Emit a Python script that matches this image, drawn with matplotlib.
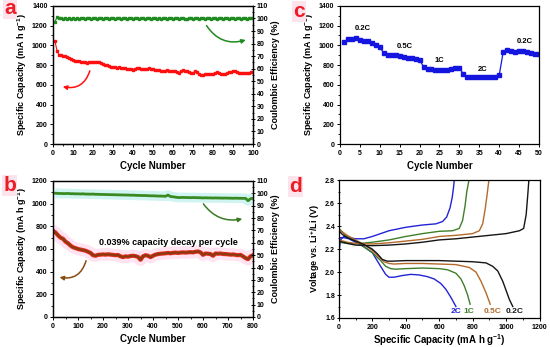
import numpy as np
import matplotlib
matplotlib.use('Agg')
import matplotlib.pyplot as plt
from matplotlib.patches import FancyArrowPatch
from matplotlib.ticker import MultipleLocator, FormatStrFormatter

plt.rcParams['font.family'] = ['Liberation Sans', 'DejaVu Sans']
plt.rcParams['font.weight'] = 'bold'
plt.rcParams['mathtext.fontset'] = 'custom'
plt.rcParams['mathtext.rm'] = 'Liberation Sans:bold'
plt.rcParams['mathtext.bf'] = 'Liberation Sans:bold'

# ---- panel a: cycling at 0.2C, 100 cycles
cycles_a = np.arange(1, 101)
cap_a = [1040, 945, 905, 900, 895, 890, 880, 870, 860, 850,
         845, 840, 838, 835, 830, 828, 826, 830, 832, 828,
         830, 832, 828, 825, 815, 805, 798, 790, 785, 780,
         778, 775, 778, 774, 770, 768, 765, 762, 760, 755,
         765, 770, 768, 762, 758, 760, 764, 768, 762, 758,
         755, 750, 748, 745, 742, 740, 748, 745, 738, 735,
         740, 732, 722, 738, 750, 745, 735, 728, 720, 718,
         738, 725, 705, 695, 700, 708, 712, 705, 708, 710,
         722, 725, 718, 712, 705, 706, 715, 728, 732, 738,
         735, 728, 722, 718, 716, 718, 720, 722, 726, 725]
ce_a = [97.5, 101.0, 100.4, 100.0, 99.8, 100.1, 99.9, 100.0, 99.7, 100.2,
        99.9, 100.0, 99.8, 100.1, 100.0, 99.9, 100.2, 100.0, 99.8, 100.1,
        100.0, 99.9, 100.1, 100.0, 99.8, 100.2, 100.0, 99.9, 100.1, 100.0,
        99.8, 100.0, 100.2, 99.9, 100.0, 100.1, 99.8, 100.0, 100.2, 99.9,
        100.0, 100.1, 99.9, 100.0, 100.2, 99.8, 100.0, 100.1, 99.9, 100.0,
        100.2, 99.9, 100.0, 99.8, 100.1, 100.0, 99.9, 100.2, 100.0, 99.8,
        100.0, 100.1, 99.9, 100.0, 100.3, 99.8, 99.6, 100.0, 100.1, 99.9,
        100.0, 100.2, 99.9, 100.0, 100.1, 99.8, 100.0, 100.2, 99.9, 100.0,
        100.1, 99.9, 100.0, 100.2, 99.8, 100.0, 100.1, 99.9, 100.0, 100.2,
        99.9, 100.0, 100.1, 99.8, 100.0, 100.2, 99.9, 100.0, 100.1, 100.0]

# ---- panel b: long cycling, every 10th cycle
cycles_b = np.arange(0, 801, 10)
cap_b = [760, 745, 720, 700, 690, 665, 650, 630, 615, 608,
         600, 595, 590, 585, 575, 565, 545, 540, 548, 550,
         552, 550, 553, 550, 548, 545, 547, 535, 528, 535,
         532, 538, 540, 537, 530, 505, 535, 545, 540, 528,
         540, 550, 555, 558, 560, 562, 565, 562, 566, 568,
         565, 568, 570, 568, 570, 572, 570, 575, 578, 570,
         548, 560, 558, 555, 540, 560, 558, 560, 556, 555,
         553, 550, 552, 548, 545, 548, 535, 520, 510, 535,
         545]
ce_b = [100.0, 100.1, 99.9, 99.9, 99.8, 99.8, 99.9, 99.7, 99.7, 99.6,
        99.6, 99.5, 99.6, 99.4, 99.4, 99.3, 99.4, 99.2, 99.2, 99.1,
        99.1, 99.0, 99.0, 98.9, 98.9, 98.8, 98.8, 98.7, 98.7, 98.6,
        98.6, 98.5, 98.5, 98.4, 98.3, 98.3, 98.2, 98.2, 98.1, 98.0,
        98.0, 97.9, 97.8, 97.8, 97.7, 97.6, 98.6, 97.4, 97.2, 96.9,
        96.6, 96.6, 96.7, 96.6, 96.6, 96.5, 96.6, 96.5, 96.5, 96.4,
        96.3, 96.4, 96.3, 96.3, 96.2, 96.3, 96.2, 96.2, 96.1, 96.2,
        96.1, 96.1, 96.0, 96.1, 96.0, 96.0, 95.9, 96.0, 94.0, 95.6,
        96.0]

# ---- panel c: rate capability
cycles_c = np.arange(1, 51)
cap_c = [1035, 1062, 1065, 1075, 1055, 1048, 1048, 1028, 1008, 987,
         920, 900, 900, 900, 896, 886, 876, 869, 859, 852,
         785, 761, 757, 755, 754, 754, 754, 758, 767, 771,
         710, 680, 680, 680, 680, 680, 680, 680, 680, 697,
         930, 954, 940, 930, 940, 943, 933, 920, 913, 913]
rate_labels = ['0.2C', '0.5C', '1C', '2C', '0.2C']
rate_label_x = [5.7, 16.3, 25.1, 35.8, 46.5]
rate_label_y = [1167, 987, 845, 751, 1035]

# ---- panel d: voltage profiles
rates_d = ['2C', '1C', '0.5C', '0.2C']
colors_d = ['#2323d6', '#3f7f2a', '#b36a2c', '#151515']
dis_x = [
    [0, 30, 60, 100, 150, 200, 250, 280, 300, 330, 380, 430, 480, 530, 570, 610, 640, 670, 700],
    [0, 50, 100, 150, 200, 250, 280, 310, 340, 400, 500, 600, 650, 700, 730, 750, 770, 785],
    [0, 50, 100, 150, 200, 240, 270, 300, 330, 400, 500, 600, 700, 780, 820, 850, 880, 905],
    [0, 20, 50, 100, 150, 200, 230, 260, 290, 320, 400, 500, 600, 700, 800, 880, 920, 950, 980, 1000, 1020, 1040],
]
dis_v = [
    [2.30, 2.30, 2.29, 2.26, 2.22, 2.17, 2.05, 1.98, 1.955, 1.955, 1.97, 1.98, 1.975, 1.96, 1.94, 1.90, 1.85, 1.78, 1.70],
    [2.38, 2.31, 2.27, 2.22, 2.17, 2.10, 2.05, 2.03, 2.025, 2.03, 2.035, 2.03, 2.02, 1.99, 1.94, 1.88, 1.80, 1.72],
    [2.37, 2.32, 2.28, 2.24, 2.19, 2.13, 2.09, 2.075, 2.07, 2.075, 2.075, 2.07, 2.065, 2.04, 2.00, 1.92, 1.82, 1.72],
    [2.36, 2.33, 2.30, 2.27, 2.24, 2.20, 2.16, 2.11, 2.095, 2.095, 2.10, 2.10, 2.10, 2.095, 2.09, 2.08, 2.05, 2.01, 1.92, 1.84, 1.76, 1.70],
]
chg_x = [
    [0, 10, 30, 60, 100, 150, 200, 300, 400, 500, 580, 620, 645, 665, 678, 686, 690],
    [0, 50, 100, 200, 300, 400, 500, 600, 680, 720, 740, 755, 765, 778],
    [0, 50, 100, 200, 300, 400, 500, 600, 700, 800, 840, 860, 875, 887, 897],
    [0, 50, 100, 200, 300, 400, 500, 600, 700, 800, 900, 1000, 1080, 1105, 1120, 1130, 1136],
]
chg_v = [
    [2.15, 2.28, 2.31, 2.30, 2.29, 2.29, 2.31, 2.36, 2.39, 2.41, 2.42, 2.44, 2.48, 2.56, 2.65, 2.74, 2.80],
    [2.26, 2.25, 2.245, 2.26, 2.28, 2.31, 2.335, 2.355, 2.36, 2.38, 2.45, 2.58, 2.70, 2.80],
    [2.28, 2.26, 2.25, 2.245, 2.255, 2.27, 2.285, 2.31, 2.32, 2.335, 2.36, 2.42, 2.55, 2.68, 2.80],
    [2.27, 2.25, 2.235, 2.23, 2.235, 2.245, 2.26, 2.28, 2.29, 2.305, 2.32, 2.335, 2.36, 2.38, 2.50, 2.68, 2.80],
]
label_x_d = [704, 776, 918, 1051]

red = '#ff1010'
green = '#1f8a1f'
letter_red = '#ee1c25'
cap_label = 'Specific Capacity (mA h g$^{-1}$)'


def style(ax):
    ax.tick_params(which='major', labelsize=5, width=0.7, length=2.5, pad=1.5)
    ax.tick_params(which='minor', width=0.6, length=1.5)
    for s in ax.spines.values():
        s.set_linewidth(0.9)


def arrow(ax, a, b, rad, color):
    ax.add_patch(FancyArrowPatch(a, b, connectionstyle=f'arc3,rad={rad}',
                                 arrowstyle='-|>', mutation_scale=6,
                                 lw=1.1, color=color))


fig = plt.figure(figsize=(5.5, 3.47), dpi=100)

# ---------- a
ax = fig.add_axes([0.0964, 0.585, 0.3636, 0.398])
ax.plot(cycles_a, cap_a, 's-', color=red, ms=2.0, lw=0.8)
ax.set_xlim(0, 100)
ax.set_ylim(0, 1400)
ax.xaxis.set_major_locator(MultipleLocator(10))
ax.xaxis.set_minor_locator(MultipleLocator(5))
ax.yaxis.set_major_locator(MultipleLocator(200))
ax.yaxis.set_minor_locator(MultipleLocator(100))
ax.set_xlabel('Cycle Number', fontsize=7, fontweight='bold', labelpad=3)
ax.set_ylabel(cap_label, fontsize=6.5, fontweight='bold', labelpad=2)
style(ax)
arrow(ax, (18.8, 768), (3.5, 588), -0.5, red)
ax2 = ax.twinx()
ax2.plot(cycles_a, ce_a, 's-', color=green, ms=1.8, lw=0.8)
ax2.set_ylim(0, 110)
ax2.yaxis.set_major_locator(MultipleLocator(10))
ax2.yaxis.set_minor_locator(MultipleLocator(5))
ax2.set_ylabel('Coulombic Efficiency (%)', fontsize=6.5, fontweight='bold', labelpad=2)
style(ax2)
ax2.tick_params(axis='y', which='both', direction='inout')
arrow(ax2, (76, 96.2), (97.7, 83.5), 0.4, green)

# ---------- b
ax = fig.add_axes([0.0964, 0.0865, 0.3636, 0.392])
ax.plot(cycles_b, cap_b, '-', color='#ffc8e4', lw=9, alpha=0.5, solid_capstyle='round')
ax.plot(cycles_b, cap_b, '-', color='#e82a1a', lw=3.0)
ax.plot(cycles_b, cap_b, '-', color='#8a3a10', lw=1.6)
ax.set_xlim(0, 800)
ax.set_ylim(0, 1200)
ax.xaxis.set_major_locator(MultipleLocator(100))
ax.xaxis.set_minor_locator(MultipleLocator(50))
ax.yaxis.set_major_locator(MultipleLocator(200))
ax.yaxis.set_minor_locator(MultipleLocator(100))
ax.set_xlabel('Cycle Number', fontsize=7, fontweight='bold', labelpad=3)
ax.set_ylabel(cap_label, fontsize=6.5, fontweight='bold', labelpad=2)
ax.text(460, 653, '0.039% capacity decay per cycle', fontsize=6.5, fontweight='bold',
        ha='center', va='center')
style(ax)
arrow(ax, (135, 520), (15, 355), -0.5, '#8a4a10')
ax2 = ax.twinx()
ax2.plot(cycles_b, ce_b, '-', color='#c4f2ee', lw=7, alpha=0.8)
ax2.plot(cycles_b, ce_b, '-', color='#3a8a22', lw=2.0)
ax2.set_ylim(0, 110)
ax2.yaxis.set_major_locator(MultipleLocator(10))
ax2.yaxis.set_minor_locator(MultipleLocator(5))
ax2.set_ylabel('Coulombic Efficiency (%)', fontsize=6.5, fontweight='bold', labelpad=2)
style(ax2)
ax2.tick_params(axis='y', which='both', direction='inout')
arrow(ax2, (595, 93.3), (768, 79.8), 0.35, '#3a7a22')

# ---------- c
ax = fig.add_axes([0.618, 0.585, 0.362, 0.398])
ax.plot(cycles_c, cap_c, 's-', color='#1515e0', ms=2.2, lw=0.9)
for t, x, y in zip(rate_labels, rate_label_x, rate_label_y):
    ax.text(x, y, t, fontsize=5.5, fontweight='bold', ha='center', va='center')
ax.set_xlim(0, 50)
ax.set_ylim(0, 1400)
ax.xaxis.set_major_locator(MultipleLocator(5))
ax.yaxis.set_major_locator(MultipleLocator(200))
ax.yaxis.set_minor_locator(MultipleLocator(100))
ax.set_xlabel('Cycle Number', fontsize=7, fontweight='bold', labelpad=3)
ax.set_ylabel(cap_label, fontsize=6.5, fontweight='bold', labelpad=2)
style(ax)

# ---------- d
ax = fig.add_axes([0.616, 0.0836, 0.365, 0.397])
for i in range(4):
    ax.plot(dis_x[i], dis_v[i], '-', color=colors_d[i], lw=1.0)
    ax.plot(chg_x[i], chg_v[i], '-', color=colors_d[i], lw=1.0)
    ax.text(label_x_d[i], 1.655, rates_d[i], color=colors_d[i], fontsize=6,
            fontweight='bold', ha='center', va='center')
ax.set_xlim(0, 1200)
ax.set_ylim(1.6, 2.8)
ax.xaxis.set_major_locator(MultipleLocator(200))
ax.xaxis.set_minor_locator(MultipleLocator(100))
ax.yaxis.set_major_locator(MultipleLocator(0.2))
ax.yaxis.set_minor_locator(MultipleLocator(0.1))
ax.yaxis.set_major_formatter(FormatStrFormatter('%.1f'))
ax.set_xlabel(cap_label, fontsize=7, fontweight='bold', labelpad=1.5)
ax.set_ylabel('Voltage vs. Li$^{+}$/Li (V)', fontsize=6.5, fontweight='bold', labelpad=2)
style(ax)
ax.tick_params(axis='y', which='both', direction='inout')

# panel letters
for t, x, y in [('a', 0.018, 0.975), ('b', 0.018, 0.465), ('c', 0.543, 0.968), ('d', 0.538, 0.462)]:
    fig.text(x, y, t, fontsize=15, fontweight='bold', color=letter_red, ha='center', va='center',
             bbox=dict(boxstyle='square,pad=0.05', fc='#fde3ec', ec='none'))

fig.savefig('out.png', dpi=100)
